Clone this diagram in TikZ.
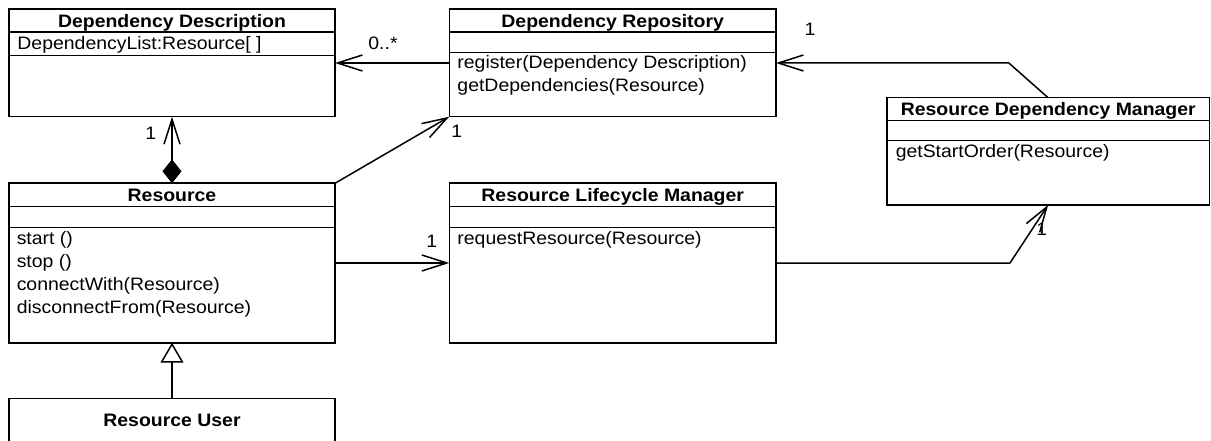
\documentclass[tikz,border=0pt]{standalone}
\usepackage{fontspec}
\setmainfont{Liberation Sans}[FakeStretch=1.08]
\usetikzlibrary{arrows.meta}
\begin{document}
\begin{tikzpicture}[x=1pt,y=-1pt,line width=1.5pt,
  box/.style={draw,line width=1.6pt,anchor=north west,inner sep=0pt,outer sep=0pt},
  ttl/.style={anchor=base,inner sep=0pt,font=\fontsize{18}{23}\selectfont\bfseries},
  txt/.style={anchor=base west,inner sep=0pt,font=\fontsize{18}{23}\selectfont},
  lbl/.style={anchor=base,inner sep=0pt,font=\fontsize{18}{23}\selectfont},
  assoc/.style={-{Straight Barb[length=25pt,width=16pt]}},
  compo/.style={{Diamond[length=24pt,width=19pt]}-{Straight Barb[length=25pt,width=16pt]}},
  gener/.style={-{Triangle[open,length=20pt,width=23pt,fill=white]}}]
\clip (0,0) rectangle (1211,441);
\fill[white] (0,0) rectangle (1211,441);
% boxes
\node[box,minimum width=326pt,minimum height=107.4pt] (dd) at (9,9.3) {};
\node[box,minimum width=326.7pt,minimum height=107.4pt] (dr) at (449.3,9.3) {};
\node[box,minimum width=326pt,minimum height=159.4pt] (res) at (9,183.3) {};
\node[box,minimum width=326.7pt,minimum height=159.4pt] (rlm) at (449.3,183.3) {};
\node[box,minimum width=322.8pt,minimum height=107.3pt] (rdm) at (886.7,97.7) {};
\node[box,minimum width=326pt,minimum height=60pt] (ru) at (9,398.3) {};
% compartments
\foreach \b/\s in {dd/23,dd/46.2,dr/23,dr/43.4,res/23.4,res/44.2,rlm/23.4,rlm/44.2,rdm/23,rdm/43}
  \draw[line width=1.6pt] ([yshift=-\s pt]\b.north west) -- ([yshift=-\s pt]\b.north east);
% titles
\node[ttl] (ddT) at (172,27.5) {Dependency Description};
\node[ttl] (drT) at (612.7,27.5) {Dependency Repository};
\node[ttl] (resT) at (172,201.7) {Resource};
\node[ttl] (rlmT) at (612.7,201.7) {Resource Lifecycle Manager};
\node[ttl] (rdmT) at (1048.3,115.3) {Resource Dependency Manager};
\node[ttl] (ruT) at (172,426) {Resource User};
% members
\node[txt] (ddA) at (16.7,50) {DependencyList:Resource[ ]};
\node[txt] (drM1) at (456.7,68.3) {register(Dependency Description)};
\node[txt] (drM2) at (456.7,91.6) {getDependencies(Resource)};
\node[txt] (resM1) at (16,244) {start ()};
\node[txt] (resM2) at (16,267) {stop ()};
\node[txt] (resM3) at (16,290) {connectWith(Resource)};
\node[txt] (resM4) at (16,313) {disconnectFrom(Resource)};
\node[txt] (rlmM) at (456.7,244) {requestResource(Resource)};
\node[txt] (rdmM) at (895,157.3) {getStartOrder(Resource)};
% connectors
\draw[assoc] (dr.west) -- (dd.east);
\draw[compo] (res.north) -- (dd.south);
\draw[assoc] (res.north east) -- (dr.south west);
\draw[assoc] (res.east) -- (rlm.west);
\draw[assoc] (rlm.east) -- ++(234,0) -- (rdm.south);
\draw[assoc] (rdm.north) -- ++(-39.3,-34.7) -- (dr.east);
\draw[gener] (ru.north) -- (res.south);
% multiplicities
\node[lbl] (m1) at (383,50) {0..*};
\node[lbl] (m2) at (810,36) {1};
\node[lbl] (m3) at (456.7,137.3) {1};
\node[lbl] (m4) at (150.7,140) {1};
\node[lbl] (m5) at (431.7,247.3) {1};
\node[lbl] (m6) at (1041.7,236) {1};
\end{tikzpicture}
\end{document}
